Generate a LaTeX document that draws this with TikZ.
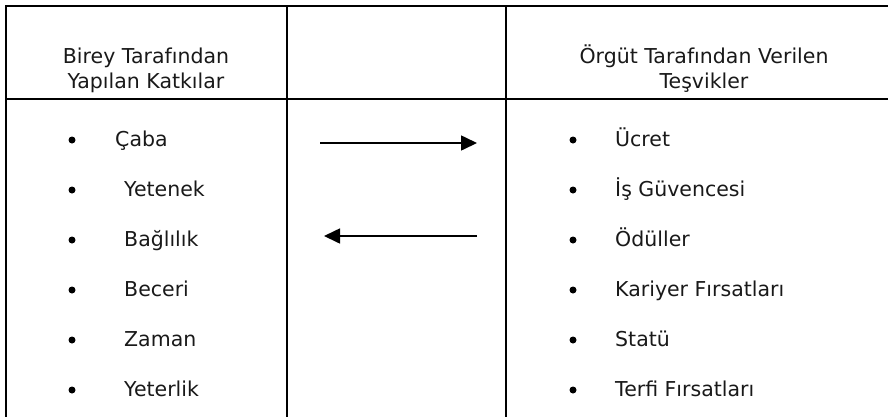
\documentclass[tikz,border=0pt]{standalone}
\usepackage{fontspec}
\setmainfont{DejaVu Sans}
\usetikzlibrary{arrows.meta}
\newcommand{\cellfont}{\fontsize{20.5}{25}\selectfont}

\begin{document}
\begin{tikzpicture}
  [x=1pt,y=-1pt,every node/.style={inner sep=0pt,font=\cellfont,text=black!90},
   tbl/.style={line width=2.2pt},
   dot/.style={circle,fill=black,minimum size=7pt},
   arr/.style={line width=1.6pt,-{Triangle[length=16pt,width=15pt]}}]
  \useasboundingbox (0,0) rectangle (888,416);
  \clip (0,0) rectangle (888,416);
  % table
  \draw[tbl] (6,6) rectangle (904,432);
  \draw[tbl] (6,99) -- (904,99);
  \foreach \x in {287,506}
    \draw[tbl] (\x,6) -- (\x,432);
  % headers
  \node[anchor=base] (hl1) at (146,63) {Birey Tarafından};
  \node[anchor=base] (hl2) at (146,88) {Yapılan Katkılar};
  \node[anchor=base] (hr1) at (704,63) {Örgüt Tarafından Verilen};
  \node[anchor=base] (hr2) at (704,88) {Teşvikler};
  % left column
  \foreach \x/\txt [count=\i] in {115/Çaba,124/Yetenek,124/Bağlılık,124/Beceri,124/Zaman,124/Yeterlik} {
    \node[dot] (bl\i) at (72,90+50*\i) {};
    \node[anchor=base west] (l\i) at (\x,96+50*\i) {\txt};
  }
  % right column
  \foreach \txt [count=\i] in {Ücret,İş Güvencesi,Ödüller,Kariyer Fırsatları,Statü,Terfi Fırsatları} {
    \node[dot] (br\i) at (573,90+50*\i) {};
    \node[anchor=base west] (r\i) at (615,96+50*\i) {\txt};
  }
  % arrows
  \coordinate (a1s) at (320,143);
  \coordinate (a1e) at (477,143);
  \coordinate (a2s) at (477,236);
  \coordinate (a2e) at (324,236);
  \draw[arr] (a1s) -- (a1e);
  \draw[arr] (a2s) -- (a2e);
\end{tikzpicture}
\end{document}
